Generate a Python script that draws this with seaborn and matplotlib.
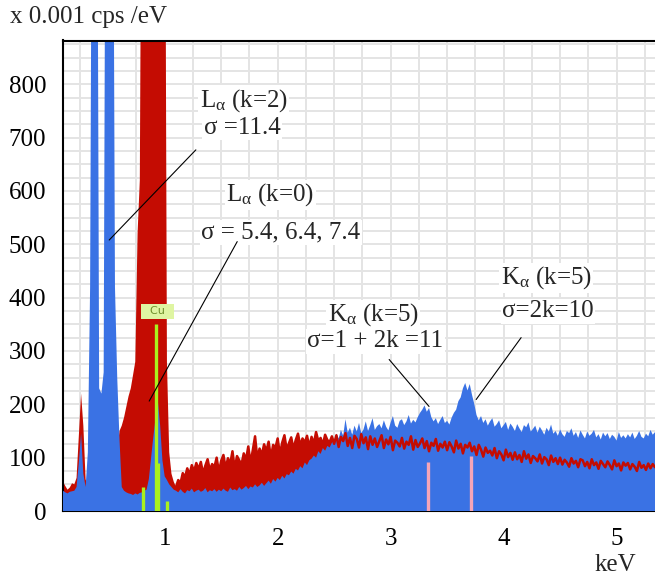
import numpy as np
import matplotlib
matplotlib.use("Agg")
import matplotlib.pyplot as plt
import seaborn as sns
from matplotlib.ticker import MultipleLocator

# energy channels (keV), 0.02 keV apart
energy = np.round(np.linspace(0.10, 5.34, 263), 2)

# spectrum 1 (blue), x 0.001 cps/eV, one row = 0.2 keV
blue_counts = [
    38, 35, 33, 36, 37, 38, 45, 90, 145, 70,
    45, 110, 420, 1500, 1500, 1500, 230, 220, 260, 1500,
    1500, 1500, 1500, 420, 250, 135, 45, 38, 35, 33,
    32, 30, 33, 31, 34, 35, 38, 40, 60, 100,
    140, 175, 205, 160, 95, 65, 58, 50, 45, 40,
    38, 35, 41, 36, 33, 39, 37, 42, 35, 38,
    40, 36, 38, 43, 35, 39, 37, 41, 36, 40,
    37, 42, 38, 36, 44, 39, 41, 38, 45, 40,
    43, 47, 41, 46, 44, 50, 45, 48, 53, 47,
    52, 57, 51, 60, 55, 62, 58, 66, 61, 69,
    67, 74, 70, 79, 76, 84, 80, 91, 86, 95,
    98, 104, 100, 112, 107, 118, 113, 122, 119, 128,
    132, 145, 136, 152, 141, 172, 147, 156, 143, 160,
    149, 165, 146, 153, 168, 150, 161, 174, 152, 159,
    163, 155, 170, 158, 151, 166, 178, 160, 156, 169,
    172, 161, 168, 180, 164, 171, 166, 176, 184, 190,
    198, 186, 193, 176, 168, 174, 163, 171, 178, 165,
    169, 162, 175, 184, 190, 206, 213, 230, 240, 226,
    238, 218, 201, 180, 170, 178, 165, 172, 160, 168,
    174, 158, 163, 170, 155, 161, 167, 152, 164, 158,
    150, 163, 155, 148, 161, 157, 166, 149, 154, 160,
    147, 158, 151, 143, 156, 149, 162, 145, 150, 141,
    153, 144, 139, 150, 146, 155, 141, 148, 137, 151,
    143, 136, 149, 141, 145, 152, 138, 144, 134, 147,
    140, 146, 135, 143, 139, 132, 148, 137, 142, 136,
    144, 138, 147, 135, 141, 150, 139, 136, 145, 140,
    152, 143, 148,
]

# spectrum 2 (red)
red_counts = [
    55, 47, 40, 44, 52, 50, 62, 140, 220, 160,
    60, 42, 48, 55, 50, 58, 62, 70, 95, 115,
    130, 145, 125, 118, 112, 150, 160, 175, 195, 215,
    230, 255, 280, 520, 620, 1500, 1500, 1500, 1500, 1500,
    1500, 1500, 1500, 1500, 1500, 1500, 280, 110, 70, 55,
    45, 58, 52, 71, 63, 80, 68, 86, 74, 90,
    78, 92, 70, 85, 97, 76, 88, 82, 100, 73,
    94, 105, 80, 99, 88, 112, 79, 103, 95, 87,
    108, 96, 121, 90, 114, 140, 98, 117, 105, 125,
    112, 130, 100, 124, 118, 136, 106, 128, 142, 115,
    127, 138, 116, 133, 145, 122, 136, 128, 141, 120,
    139, 126, 148, 131, 137, 124, 143, 133, 129, 140,
    126, 142, 120, 139, 131, 146, 122, 137, 118, 141,
    135, 119, 144, 127, 138, 116, 140, 124, 136, 120,
    131, 142, 118, 134, 125, 139, 114, 132, 128, 121,
    137, 117, 130, 124, 140, 115, 133, 120, 127, 136,
    118, 131, 112, 128, 122, 135, 113, 126, 119, 130,
    114, 129, 121, 110, 132, 117, 126, 108, 124, 119,
    128, 112, 121, 105, 124, 115, 102, 119, 109, 113,
    104, 118, 99, 112, 106, 95, 115, 101, 109, 96,
    110, 97, 105, 92, 112, 98, 106, 90, 103, 99,
    93, 106, 89, 101, 97, 86, 104, 92, 99, 88,
    100, 87, 96, 91, 83, 99, 89, 94, 82, 97,
    95, 84, 92, 80, 97, 86, 91, 79, 94, 88,
    82, 93, 86, 78, 95, 84, 89, 76, 91, 85,
    90, 78, 88, 83, 75, 92, 81, 86, 77, 89,
    80, 88, 82,
]

# element markers
cu_pos = [0.81, 0.925, 0.945, 1.02]
cu_height = [45, 350, 90, 18]
k_pos = [3.33, 3.71]
k_height = [92, 103]

# annotation texts: (text, x, y)
notes = [
    (r"L$_{\mathrm{\alpha}}$ (k=2)", 1.70, 770),
    ("σ =11.4", 1.686, 718),
    (r"L$_{\mathrm{\alpha}}$ (k=0)", 1.934, 593),
    ("σ = 5.4, 6.4, 7.4", 2.03, 523),
    (r"K$_{\mathrm{\alpha}}$ (k=5)", 2.845, 368),
    ("σ=1 + 2k =11", 2.863, 318),
    (r"K$_{\mathrm{\alpha}}$ (k=5)", 4.376, 437),
    ("σ=2k=10", 4.394, 374),
]
# leader lines: (peak point, text end)
leaders = [
    ((0.509, 508), (1.276, 677)),
    ((0.863, 206), (1.642, 505)),
    ((3.34, 196), (2.987, 284)),
    ((3.757, 209), (4.155, 325)),
]

BLUE = "#3a72e4"
RED = "#c40c02"

sns.set_style("white")
plt.rcParams['font.family'] = ['Liberation Serif', 'DejaVu Serif']
plt.rcParams['mathtext.fontset'] = 'custom'
plt.rcParams['mathtext.rm'] = 'Liberation Serif'
plt.rcParams['mathtext.it'] = 'Liberation Serif:italic'

fig = plt.figure(figsize=(6.55, 5.77), dpi=100)
ax = fig.add_axes([63 / 655, 1 - 511 / 577, 1 - 63 / 655, (511 - 40.5) / 577])

# faint background grid
for g in np.arange(0.25, 5.34, 0.25):
    ax.axvline(g, color="#e4e4e4", lw=1.4, zorder=0)
for g in np.arange(25, 882, 25):
    ax.axhline(g, color="#e4e4e4", lw=1.4, zorder=0)

ax.fill_between(energy, red_counts, color=RED, lw=0, zorder=2)
ax.fill_between(energy, blue_counts, color=BLUE, lw=0, zorder=3)
mask = energy >= 1.1
sns.lineplot(x=energy[mask], y=np.array(red_counts)[mask], ax=ax, color=RED,
             lw=1.8, estimator=None, errorbar=None, zorder=4)

ax.vlines(cu_pos, 0, cu_height, color="#aaf01e", lw=2.4, zorder=5)
ax.vlines(k_pos, 0, k_height, color="#f5a5b8", lw=2.4, zorder=5)
ax.text(0.935, 374, "  Cu  ", fontsize=8, color="#6f8f2a", family="DejaVu Sans",
        ha="center", va="center", zorder=6,
        bbox=dict(fc="#dff5a2", ec="none", pad=1.5))

for txt, x, y in notes:
    ax.text(x, y, txt, fontsize=18, ha="center", va="center", zorder=7,
            bbox=dict(fc="white", ec="none", pad=1.0))
for (x0, y0), (x1, y1) in leaders:
    ax.annotate("", xy=(x0, y0), xytext=(x1, y1), zorder=7,
                arrowprops=dict(arrowstyle="-", color="black", lw=0.8,
                                shrinkA=0, shrinkB=0))

ax.set_xlim(0.10, 5.34)
ax.set_ylim(0, 882)
ax.xaxis.set_major_locator(MultipleLocator(1))
ax.xaxis.set_minor_locator(MultipleLocator(0.2))
ax.yaxis.set_major_locator(MultipleLocator(100))
ax.yaxis.set_minor_locator(MultipleLocator(20))
ax.tick_params(axis="both", which="both", direction="out", width=1.3,
               colors="black", labelsize=18)
ax.tick_params(axis="x", which="major", length=9, pad=3)
ax.tick_params(axis="x", which="minor", length=4)
ax.tick_params(axis="y", which="major", length=10, pad=2)
ax.tick_params(axis="y", which="minor", length=6)
ax.set_xlabel("")
ax.set_ylabel("")
sns.despine(ax=ax, top=False, right=True)
for s in ["left", "bottom", "top"]:
    ax.spines[s].set_color("black")
    ax.spines[s].set_linewidth(1.5)
ax.spines["top"].set_zorder(8)

fig.text(10 / 655, 1 - 17 / 577, "x 0.001 cps /eV", fontsize=18, ha="left", va="center")
fig.text(615 / 655, 1 - 565 / 577, "keV", fontsize=18, ha="center", va="center")

fig.savefig("out.png", dpi=100)
